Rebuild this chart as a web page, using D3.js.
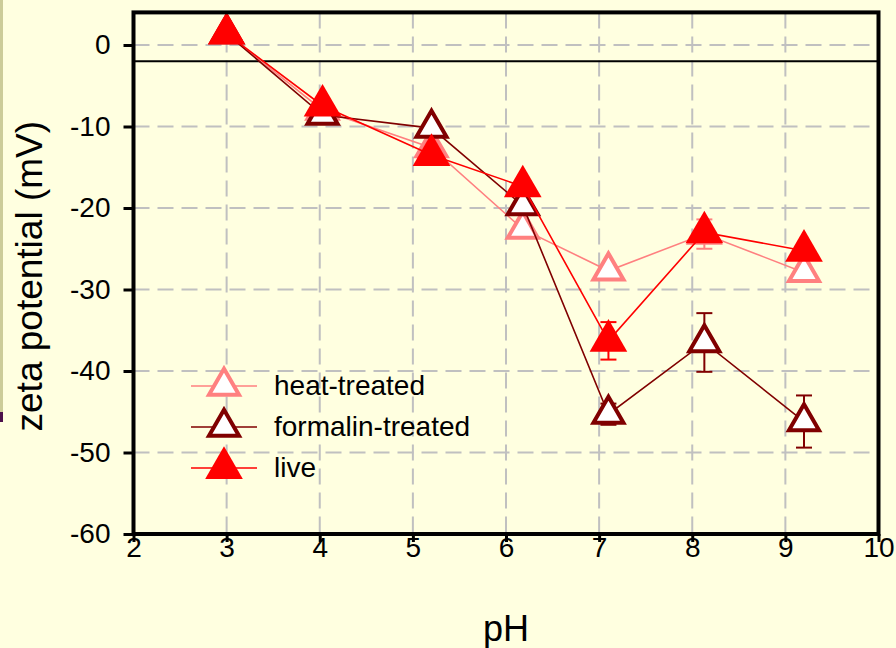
<!DOCTYPE html>
<html>
<head>
<meta charset="utf-8">
<script src="https://cdn.jsdelivr.net/npm/d3@7"></script>
<style>
  html, body { margin: 0; padding: 0; background: #FFFFE0; }
  svg { display: block; }
  text { font-family: "Liberation Sans", Arial, Helvetica, sans-serif; fill: #000; }
</style>
</head>
<body>
<svg id="chart" width="896" height="648"></svg>
<script>
// pH of each measurement
const pH = [3.0, 4.03, 5.2, 6.18, 7.1, 8.13, 9.2];

// zeta potential (mV) and error half-widths for each preparation
const heatTreated     = [1.4, -8.0, -12.6, -22.6, -27.7, -23.2, -27.9];
const heatErr         = [0, 0, 0, 0, 0, 1.8, 0];
const formalinTreated = [1.4, -8.6, -10.2, -19.7, -45.3, -36.5, -46.2];
const formalinErr     = [0, 0, 0, 0, 1.3, 3.6, 3.2];
const live            = [1.4, -7.45, -13.5, -17.35, -36.3, -23.0, -25.25];
const liveErr         = [0, 0, 0, 0, 2.3, 0, 0];

const seriesNames = ["heat-treated", "formalin-treated", "live"];
const xTicks = [2, 3, 4, 5, 6, 7, 8, 9, 10];
const yTicks = [0, -10, -20, -30, -40, -50, -60];
const referenceLevel = -2;

const series = [
  { name: seriesNames[0], values: heatTreated, errors: heatErr, color: "#FF8080", filled: false },
  { name: seriesNames[1], values: formalinTreated, errors: formalinErr, color: "#800000", filled: false },
  { name: seriesNames[2], values: live, errors: liveErr, color: "#FF0000", filled: true }
];

const svg = d3.select("#chart");
const plot = { left: 133.5, right: 878.5, top: 12.4, bottom: 534 };

const x = d3.scaleLinear().domain([2, 10]).range([plot.left, plot.right]);
const y = d3.scaleLinear().domain([-60, 4]).range([plot.bottom, plot.top]);

// tick labels with a plain hyphen for negatives
const plainNumber = d => String(d);

// side strip at the left edge
svg.append("rect").attr("x", 0).attr("y", 0).attr("width", 3).attr("height", 412).attr("fill", "#CCCC99");
svg.append("rect").attr("x", 0).attr("y", 412).attr("width", 3).attr("height", 10).attr("fill", "#4B104B");

// dashed grid
const grid = svg.append("g").attr("stroke", "#C0C0C0").attr("stroke-width", 2).attr("stroke-dasharray", "16,8");
grid.selectAll("line.h").data(yTicks.filter(v => v > -60)).join("line")
  .attr("class", "h")
  .attr("x1", plot.left).attr("x2", plot.right)
  .attr("y1", d => y(d)).attr("y2", d => y(d));
grid.selectAll("line.v").data(xTicks.filter(v => v > 2 && v < 10)).join("line")
  .attr("class", "v")
  .attr("y1", plot.top).attr("y2", plot.bottom)
  .attr("x1", d => x(d)).attr("x2", d => x(d));

// reference level
svg.append("line")
  .attr("x1", plot.left).attr("x2", plot.right)
  .attr("y1", y(referenceLevel)).attr("y2", y(referenceLevel))
  .attr("stroke", "#000").attr("stroke-width", 2);

// triangle symbols
const filledTri = d3.symbol().type(d3.symbolTriangle).size(615);
const hollowTri = d3.symbol().type(d3.symbolTriangle).size(390);

function drawMarker(g, s, cx, cy) {
  g.append("path")
    .attr("d", s.filled ? filledTri() : hollowTri())
    .attr("transform", `translate(${cx},${cy})`)
    .attr("fill", s.filled ? s.color : "#FFFFFF")
    .attr("stroke", s.filled ? "none" : s.color)
    .attr("stroke-width", s.filled ? 0 : 4)
    .attr("stroke-linejoin", "miter")
    .attr("stroke-miterlimit", 10);
}

const line = d3.line().x(d => x(d[0])).y(d => y(d[1]));

series.forEach(s => {
  const g = svg.append("g");
  const pts = pH.map((p, i) => [p, s.values[i], s.errors[i]]);

  // connecting line
  g.append("path").datum(pts)
    .attr("d", line)
    .attr("fill", "none")
    .attr("stroke", s.color)
    .attr("stroke-width", 1.6);

  // error bars
  const eb = g.append("g").attr("stroke", s.color).attr("stroke-width", 2);
  pts.filter(d => d[2] > 0).forEach(d => {
    const cx = x(d[0]), y1 = y(d[1] + d[2]), y2 = y(d[1] - d[2]);
    eb.append("line").attr("x1", cx).attr("x2", cx).attr("y1", y1).attr("y2", y2);
    eb.append("line").attr("x1", cx - 8).attr("x2", cx + 8).attr("y1", y1).attr("y2", y1);
    eb.append("line").attr("x1", cx - 8).attr("x2", cx + 8).attr("y1", y2).attr("y2", y2);
  });

  // symbols
  pts.forEach(d => drawMarker(g, s, x(d[0]), y(d[1])));
});

// axes
const yAxis = svg.append("g")
  .attr("transform", `translate(${plot.left},0)`)
  .call(d3.axisLeft(y).tickValues(yTicks).tickSize(10).tickPadding(13).tickFormat(plainNumber));
yAxis.select(".domain").remove();
yAxis.selectAll(".tick line").attr("stroke", "#000").attr("stroke-width", 3);
yAxis.selectAll(".tick text").attr("font-size", 28).attr("font-family", "Liberation Sans, Arial, sans-serif");

const xAxis = svg.append("g")
  .attr("transform", `translate(0,${plot.bottom})`)
  .call(d3.axisBottom(x).tickValues(xTicks).tickSize(8).tickFormat(plainNumber));
xAxis.select(".domain").remove();
xAxis.selectAll(".tick line").attr("stroke", "#000").attr("stroke-width", 3);
xAxis.selectAll(".tick text").attr("font-size", 28).attr("font-family", "Liberation Sans, Arial, sans-serif")
  .attr("y", 23).attr("dy", 0);

// plot frame
svg.append("rect")
  .attr("x", plot.left).attr("y", plot.top)
  .attr("width", plot.right - plot.left).attr("height", plot.bottom - plot.top)
  .attr("fill", "none").attr("stroke", "#000").attr("stroke-width", 4);

// axis titles
svg.append("text")
  .attr("x", x(6)).attr("y", 641)
  .attr("text-anchor", "middle").attr("font-size", 36)
  .text("pH");
svg.append("text")
  .attr("transform", `translate(42,${(plot.top + plot.bottom) / 2 + 3}) rotate(-90)`)
  .attr("text-anchor", "middle").attr("font-size", 37)
  .text("zeta potential (mV)");

// legend
const legend = svg.append("g");
const legendRows = [386, 427, 468];
series.forEach((s, i) => {
  const ry = legendRows[i];
  legend.append("line")
    .attr("x1", 191).attr("x2", 257).attr("y1", ry).attr("y2", ry)
    .attr("stroke", s.color).attr("stroke-width", 1.6);
  drawMarker(legend, s, 224, ry);
  legend.append("text")
    .attr("x", 274).attr("y", ry + 9)
    .attr("font-size", 28)
    .text(s.name);
});
</script>
</body>
</html>
